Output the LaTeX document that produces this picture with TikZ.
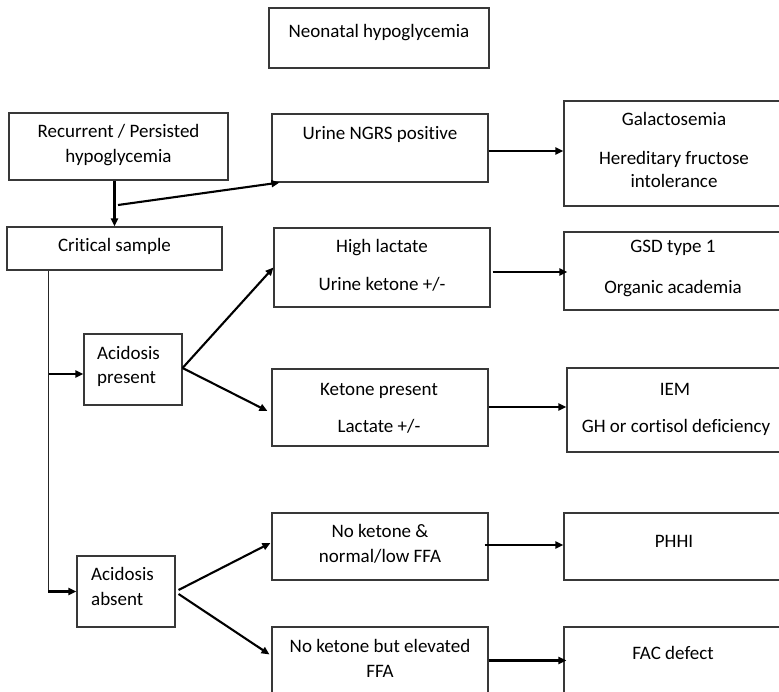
\documentclass[tikz,border=0pt]{standalone}
\usepackage{fontspec}
\setmainfont{Carlito}[Ligatures=NoCommon]
\usetikzlibrary{arrows.meta,calc}
\begin{document}
\begin{tikzpicture}[x=1pt,y=-1pt,
  box/.style={draw=black!78,line width=1.1pt,inner sep=0pt,rectangle},
  lbl/.style={anchor=base,inner sep=0pt,font=\fontsize{19}{25}\selectfont},
  lbll/.style={lbl,anchor=base west},
  arr/.style={line width=2.1pt,-{Triangle[length=8pt,width=7pt]}},
  trunkline/.style={line width=1pt,draw=black!85}]
\useasboundingbox (0,0) rectangle (779,691);
\clip (0,0) rectangle (779,691);

% boxes (centre, width x height)
\node[box,minimum width=220pt,minimum height=60pt]  (neo)   at (379,38)    {};
\node[box,minimum width=219pt,minimum height=67pt]  (rec)   at (118.5,146.5) {};
\node[box,minimum width=216pt,minimum height=68pt]  (urine) at (380,148)   {};
\node[box,minimum width=220pt,minimum height=105pt] (gal)   at (674,153.5) {};
\node[box,minimum width=215pt,minimum height=43pt]  (crit)  at (114.5,248.5) {};
\node[box,minimum width=216pt,minimum height=79pt]  (high)  at (382,267.5) {};
\node[box,minimum width=220pt,minimum height=78pt]  (gsd)   at (674,271)   {};
\node[box,minimum width=98pt,minimum height=71pt]   (acp)   at (133,369.5) {};
\node[box,minimum width=216pt,minimum height=77pt]  (ket)   at (380,407.5) {};
\node[box,minimum width=220pt,minimum height=84pt]  (iem)   at (677,410)   {};
\node[box,minimum width=98pt,minimum height=71pt]   (acab)  at (126,591.5) {};
\node[box,minimum width=216pt,minimum height=67pt]  (nk1)   at (380,546.5) {};
\node[box,minimum width=220pt,minimum height=67pt]  (phhi)  at (674,546.5) {};
\node[box,minimum width=216pt,minimum height=90pt]  (nk2)   at (380,672)   {};
\node[box,minimum width=220pt,minimum height=90pt]  (fac)   at (674,672)   {};

% texts
\node[lbl] (t-neo)  at (379,37)  {Neonatal hypoglycemia};
\node[lbl] (t-rec1) at (118.5,137) {Recurrent / Persisted};
\node[lbl] (t-rec2) at (118.5,162) {hypoglycemia};
\node[lbl] (t-uri)  at (380,139) {Urine NGRS positive};
\node[lbl] (t-gal1) at (674,125) {Galactosemia};
\node[lbl] (t-gal2) at (674,164) {Hereditary fructose};
\node[lbl] (t-gal3) at (674,187) {intolerance};
\node[lbl] (t-crit) at (114.5,251) {Critical sample};
\node[lbl] (t-hi1)  at (382,252) {High lactate};
\node[lbl] (t-hi2)  at (382,290) {Urine ketone +/-};
\node[lbl] (t-gsd1) at (673,252) {GSD type 1};
\node[lbl] (t-gsd2) at (673,293) {Organic academia};
\node[lbll] (t-acp1) at (97,359) {Acidosis};
\node[lbll] (t-acp2) at (97,383) {present};
\node[lbl] (t-ket1) at (379,395) {Ketone present};
\node[lbl] (t-ket2) at (379,432) {Lactate +/-};
\node[lbl] (t-iem1) at (675,395) {IEM};
\node[lbl] (t-iem2) at (676,432) {GH or cortisol deficiency};
\node[lbll] (t-ab1) at (91,580) {Acidosis};
\node[lbll] (t-ab2) at (91,605) {absent};
\node[lbl] (t-nk11) at (380,537) {No ketone \&};
\node[lbl] (t-nk12) at (380,562) {normal/low FFA};
\node[lbl] (t-phhi) at (674,547) {PHHI};
\node[lbl] (t-nk21) at (380,652) {No ketone but elevated};
\node[lbl] (t-nk22) at (380,677) {FFA};
\node[lbl] (t-fac)  at (673,659) {FAC defect};

% connectors
\coordinate (split) at (118,205);
\coordinate (trunk) at (48,590);
\draw[arr] (rec.south -| crit.north) -- (crit.north);
\draw[arr] (split) -- ($(urine.south west)+(8,0)$);
\draw[arr] ($(urine.east)+(0,3)$) -- ($(urine.east -| gal.west)+(0,3)$);
\draw[trunkline] (crit.south -| trunk) -- (trunk);
\draw[arr] ($(acp.west -| trunk)+(1,4.5)$) -- ($(acp.west)+(0,4.5)$);
\draw[arr] (acab.west -| trunk) -- (acab.west);
\draw[arr] ($(acp.east)+(0,-1.5)$) -- (high.west);
\draw[arr] ($(acp.east)+(0,-1.5)$) -- ($(ket.west)+(-4,3.5)$);
\draw[arr] ($(acab.east)+(3,-1.5)$) -- ($(nk1.west)+(-1,-3.5)$);
\draw[arr] ($(acab.east)+(3,2.5)$) -- ($(nk2.north west)+(-2,28)$);
\draw[arr] ($(high.east)+(2,4.5)$) -- ($(high.east -| gsd.west)+(4,4.5)$);
\draw[arr] ($(ket.east)+(0,-0.5)$) -- ($(ket.east -| iem.west)+(0,-0.5)$);
\draw[arr] ($(nk1.east)+(-4,-1.5)$) -- ($(nk1.east -| phhi.west)+(0,-1.5)$);
\draw[arr] ($(nk2.north east)+(0,34)$) -- ($(nk2.north east -| fac.west)+(3,34)$);
\end{tikzpicture}
\end{document}
